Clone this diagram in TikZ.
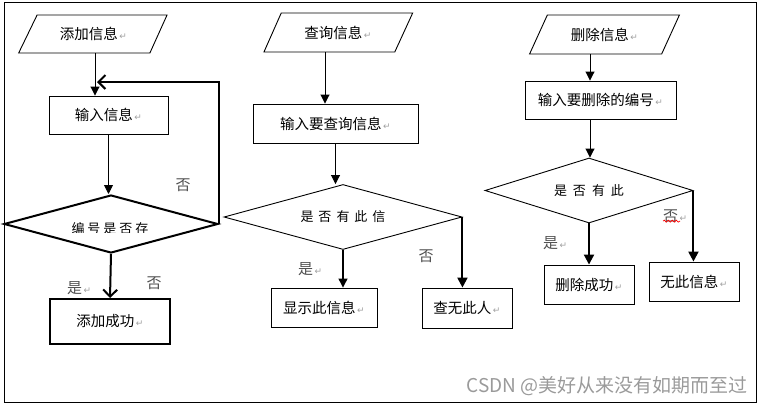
\documentclass[tikz,border=0pt]{standalone}
\usepackage{fontspec}
\setmainfont{Noto Sans CJK SC}
\newfontfamily\retfont{DejaVu Sans}
\usetikzlibrary{shapes.geometric,arrows.meta,decorations.pathmorphing}
\definecolor{retgray}{HTML}{A0A0A0}
\definecolor{labgray}{HTML}{505050}
\definecolor{wmgray}{HTML}{9A9A9A}
\newcommand\ret{{\retfont\fontsize{9}{9}\selectfont\color{retgray}\,↵}}
\newcommand\gapk[1]{\hspace{#1pt}}
\begin{document}
\begin{tikzpicture}[x=1pt,y=-1pt,
 every node/.style={font=\fontsize{14.5}{16}\selectfont, inner sep=0pt},
 box/.style={draw, line width=0.9pt, rectangle},
 thickbox/.style={draw, line width=2pt, rectangle},
 para/.style={draw, line width=0.9pt, trapezium, trapezium stretches=true},
 dia/.style={draw, line width=0.9pt, diamond, aspect=3.5},
 thickdia/.style={draw, line width=2pt, diamond, aspect=3.5},
 thinarr/.style={line width=0.9pt, -{Triangle[length=9pt,width=9pt]}},
 boldarr/.style={line width=2pt, -{Triangle[length=10pt,width=10pt]}},
 barbarr/.style={line width=2pt, -{Straight Barb[length=7pt,width=14pt]}},
 lab/.style={font=\fontsize{15}{16}\selectfont, text=labgray},
 dtext/.style={font=\fontsize{13}{14}\selectfont},
]
\useasboundingbox (0,0) rectangle (763,407);
\draw[line width=0.9pt] (4,2) rectangle (756,402);

% column 1
\node[para, trapezium left angle=51, trapezium right angle=127, minimum width=149pt, minimum height=38pt] (p1) at (93.5,34) {添加信息\ret};
\node[box, minimum width=119pt, minimum height=38pt] (b1) at (108.5,115) {输入信息\ret};
\node[thickdia, minimum width=214pt, minimum height=58pt] (d1) at (111,224) {};
\begin{scope}
\clip (0,214) rectangle (250,232.5);
\node[dtext] (t1) at (110,229) {编\gapk3号\gapk3是\gapk3否\gapk3存};
\end{scope}
\node[thickbox, minimum width=120pt, minimum height=45pt] (e1) at (110,321.5) {添加成功\ret};
\coordinate (lp) at (97,82);
\draw[thinarr] ([xshift=-13.5pt]b1.north |- p1.south) -- ([xshift=-13.5pt]b1.north);
\draw[thinarr] (b1.south) -- (b1.south |- d1.north);
\draw[barbarr] (d1.east) -- (d1.east |- lp) -- (lp);
\draw[barbarr] (d1.south) -- (e1.north);
\node[lab] (n1) at (183,185) {否};
\node[lab, anchor=west] (y1) at (67,288) {是\ret};
\node[lab] (n1b) at (154,283) {否};

% column 2
\node[para, trapezium left angle=53, trapezium right angle=128, minimum width=150pt, minimum height=39pt] (p2) at (338,32.5) {查询信息\ret};
\node[box, minimum width=165pt, minimum height=39pt] (b2) at (335.5,123.5) {输入要查询信息\ret};
\node[dia, dtext, minimum width=238pt, minimum height=65pt] (d2) at (343,217) {是\gapk5否\gapk5有\gapk5此\gapk5信};
\node[box, minimum width=106pt, minimum height=39pt] (e2) at (324,307.5) {显示此信息\ret};
\node[box, minimum width=90pt, minimum height=40pt] (f2) at (467,308) {查无此人\ret};
\draw[thinarr] ([xshift=-10.5pt]b2.north |- p2.south) -- ([xshift=-10.5pt]b2.north);
\draw[thinarr] (b2.south) -- (b2.south |- d2.north);
\draw[thinarr, line width=1.2pt] (d2.south) -- (d2.south |- e2.north);
\draw[boldarr] (d2.east) -- (d2.east |- f2.north);
\node[lab, anchor=west] (y2) at (298,269) {是\ret};
\node[lab] (n2) at (426,256) {否};

% column 3
\node[para, trapezium left angle=52.4, trapezium right angle=127.6, minimum width=151pt, minimum height=39pt] (p3) at (604.5,34.5) {删除信息\ret};
\node[box, minimum width=151pt, minimum height=38pt] (b3) at (600.5,100) {输入要删除的编号\ret};
\node[dia, dtext, minimum width=208pt, minimum height=65pt] (d3) at (589,190.5) {是\gapk6否\gapk6有\gapk6此};
\node[box, minimum width=90pt, minimum height=39pt] (e3) at (589,284.5) {删除成功\ret};
\node[box, minimum width=90pt, minimum height=39pt] (f3) at (694,281.5) {无此信息\ret};
\draw[thinarr] ([xshift=-10.5pt]b3.north |- p3.south) -- ([xshift=-10.5pt]b3.north);
\draw[thinarr] ([xshift=-10.5pt]b3.south) -- ([xshift=-10.5pt]b3.south |- d3.north);
\draw[boldarr] (d3.south) -- (e3.north);
\draw[boldarr] (d3.east) -- (d3.east |- f3.north);
\node[lab, anchor=west] (y3) at (543,243) {是\ret};
\node[lab, anchor=west] (n3) at (663,216) {否\ret};
\draw[red, line width=0.7pt, decorate, decoration={snake, amplitude=1pt, segment length=4pt}] ([yshift=1.5pt]n3.south west) -- ++(17,0);

\node[font=\fontsize{19}{20}\selectfont, text=wmgray, anchor=east] (wm) at (748,386) {CSDN @美好从来没有如期而至过};
\end{tikzpicture}
\end{document}
